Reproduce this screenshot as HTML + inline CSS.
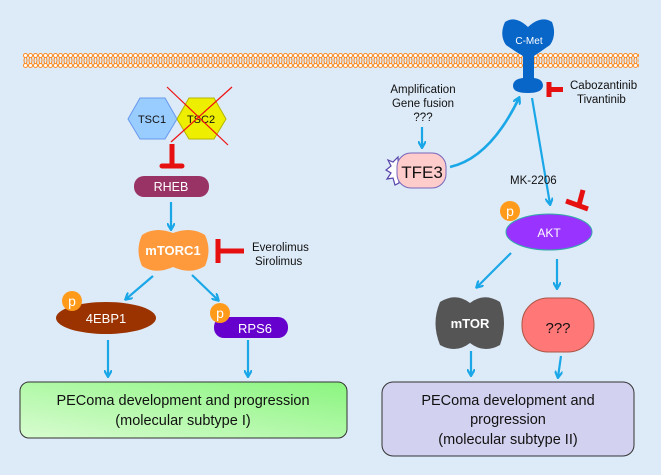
<!DOCTYPE html>
<html><head><meta charset="utf-8"><style>
html,body{margin:0;padding:0;background:#ddeaf7;}
svg{display:block;font-family:"Liberation Sans",sans-serif;}
</style></head><body>
<svg width="661" height="475" viewBox="0 0 661 475" xmlns="http://www.w3.org/2000/svg">
<defs>
<pattern id="mem" x="23" y="53" width="5" height="15" patternUnits="userSpaceOnUse">
<circle cx="2.5" cy="2.5" r="2" fill="#fff" stroke="#ff8a1f" stroke-width="1"/>
<circle cx="2.5" cy="12.5" r="2" fill="#fff" stroke="#ff8a1f" stroke-width="1"/>
<path d="M1.5 4.5 L1 7.5 L1.5 10.5 M3.5 4.5 L4 7.5 L3.5 10.5" stroke="#ff8a1f" stroke-width="1" fill="none"/>
</pattern>
<marker id="ah" markerWidth="8" markerHeight="8" refX="6" refY="4" orient="auto" markerUnits="userSpaceOnUse">
<path d="M0 0 L7 4 L0 8" fill="none" stroke="#1aa7e8" stroke-width="2.2"/>
</marker>
<linearGradient id="g1" x1="0" y1="1" x2="1" y2="0">
<stop offset="0" stop-color="#d8fcd0"/><stop offset="1" stop-color="#8af57f"/>
</linearGradient>
</defs>
<rect width="661" height="475" fill="#ddeaf7"/>
<rect x="23" y="53" width="616" height="15" fill="url(#mem)"/>

<!-- C-Met -->
<path d="M505 22 Q515 15 528 27 Q541 15 552 22 Q557 35 550 45 Q540 52 534 56 L534 78 Q543 79 543 86 Q542 93 528 93 Q513 93 513 86 Q513 79 523 78 L523 56 Q516 52 506 45 Q499 35 505 22 Z" fill="#0866c9"/>
<text x="529" y="44" font-size="10" fill="#fff" text-anchor="middle">C-Met</text>
<path d="M549 82 L549 97 M549 89.5 L563 89.5" stroke="#e61010" stroke-width="5" fill="none"/>
<text x="570" y="89" font-size="11.5" fill="#111">Cabozantinib</text>
<text x="577" y="103" font-size="11.5" fill="#111">Tivantinib</text>

<!-- TSC -->
<polygon points="128,119 140,98 165,98 177,119 165,139 140,139" fill="#99ccff" stroke="#6699ee"/>
<polygon points="177,119 189,98 214,98 226,119 214,139 189,139" fill="#eeee00" stroke="#b5b500"/>
<text x="152" y="123" font-size="11" text-anchor="middle" fill="#111">TSC1</text>
<text x="201" y="123" font-size="11" text-anchor="middle" fill="#111">TSC2</text>
<path d="M167 87 L228 145 M232 87 L171 142" stroke="#ee1111" stroke-width="1.2"/>
<path d="M172 144 L172 164" stroke="#e61010" stroke-width="5"/>
<path d="M162 166 L182 166" stroke="#e61010" stroke-width="5" stroke-linecap="round"/>

<rect x="134" y="176" width="75" height="21" rx="10" fill="#993366"/>
<text x="171" y="191" font-size="12.5" fill="#fff" text-anchor="middle">RHEB</text>
<line x1="171" y1="202" x2="171" y2="229" stroke="#1aa7e8" stroke-width="2.2" marker-end="url(#ah)"/>

<path d="M142 235 Q155 226 173 233 Q191 226 205 235 Q212 250 205 266 Q191 275 173 267 Q155 275 142 266 Q135 250 142 235 Z" fill="#ff9a3c"/>
<text x="173" y="255" font-size="13" font-weight="bold" fill="#fff" text-anchor="middle">mTORC1</text>
<path d="M218 239 L218 263 M218 251 L244 251" stroke="#e61010" stroke-width="5" fill="none"/>
<text x="252" y="251" font-size="11.5" fill="#111">Everolimus</text>
<text x="255" y="265" font-size="11.5" fill="#111">Sirolimus</text>

<line x1="153" y1="276" x2="126" y2="299" stroke="#1aa7e8" stroke-width="2.2" marker-end="url(#ah)"/>
<line x1="192" y1="275" x2="218" y2="300" stroke="#1aa7e8" stroke-width="2.2" marker-end="url(#ah)"/>

<ellipse cx="106" cy="318" rx="50" ry="16" fill="#9a3300"/>
<text x="106" y="323" font-size="13" fill="#fff" text-anchor="middle">4EBP1</text>
<circle cx="72" cy="301" r="10" fill="#ff9a1a"/>
<text x="72" y="306" font-size="14" fill="#fff" text-anchor="middle">p</text>

<rect x="214" y="317" width="74" height="21" rx="10" fill="#6600cc"/>
<text x="255" y="333" font-size="13" fill="#fff" text-anchor="middle">RPS6</text>
<circle cx="220" cy="313" r="10" fill="#ff9a1a"/>
<text x="220" y="318" font-size="14" fill="#fff" text-anchor="middle">p</text>

<line x1="108" y1="340" x2="108" y2="376" stroke="#1aa7e8" stroke-width="2.2" marker-end="url(#ah)"/>
<line x1="248" y1="340" x2="248" y2="376" stroke="#1aa7e8" stroke-width="2.2" marker-end="url(#ah)"/>

<rect x="20" y="382" width="327" height="56" rx="9" fill="url(#g1)" stroke="#333" stroke-width="1"/>
<text x="183" y="405" font-size="14.5" fill="#111" text-anchor="middle">PEComa development and progression</text>
<text x="183" y="425" font-size="14.5" fill="#111" text-anchor="middle">(molecular subtype I)</text>

<!-- right side -->
<text x="423" y="93" font-size="11.5" fill="#111" text-anchor="middle">Amplification</text>
<text x="423" y="107" font-size="11.5" fill="#111" text-anchor="middle">Gene fusion</text>
<text x="423" y="121" font-size="11.5" fill="#111" text-anchor="middle">???</text>
<line x1="422" y1="127" x2="422" y2="147" stroke="#1aa7e8" stroke-width="2.2" marker-end="url(#ah)"/>

<polygon points="398,157 393,162 388,160 391,166 386,170 391,173 387,179 393,178 395,185 399,183" fill="#fff" stroke="#5544aa" stroke-width="1.2"/>
<rect x="397" y="153" width="49" height="35" rx="14" fill="#ffcccc" stroke="#7766bb"/>
<text x="422" y="178" font-size="17" fill="#111" text-anchor="middle">TFE3</text>
<path d="M450 167 Q490 158 519 98" stroke="#1aa7e8" stroke-width="2.6" fill="none" marker-end="url(#ah)"/>
<line x1="532" y1="98" x2="550" y2="204" stroke="#1aa7e8" stroke-width="2.2" marker-end="url(#ah)"/>

<text x="510" y="184" font-size="11.5" fill="#111">MK-2206</text>
<path d="M583 190 L579 205" stroke="#e61010" stroke-width="5"/>
<path d="M566 201 L588 209" stroke="#e61010" stroke-width="5"/>

<ellipse cx="549" cy="232" rx="43" ry="18" fill="#9933ff" stroke="#33aaaa"/>
<text x="549" y="237" font-size="12" fill="#fff" text-anchor="middle">AKT</text>
<circle cx="510" cy="211" r="10" fill="#ff9a1a"/>
<text x="510" y="216" font-size="14" fill="#fff" text-anchor="middle">p</text>

<line x1="511" y1="253" x2="477" y2="287" stroke="#1aa7e8" stroke-width="2.2" marker-end="url(#ah)"/>
<line x1="557" y1="259" x2="557" y2="288" stroke="#1aa7e8" stroke-width="2.2" marker-end="url(#ah)"/>

<path d="M440 302 Q456 292 470 303 Q484 292 500 302 Q508 323 500 345 Q484 354 470 343 Q456 354 440 345 Q431 323 440 302 Z" fill="#555"/>
<text x="470" y="328" font-size="13" font-weight="bold" fill="#fff" text-anchor="middle">mTOR</text>
<rect x="522" y="298" width="72" height="54" rx="26" fill="#ff7777" stroke="#aa5544"/>
<text x="558" y="333" font-size="15" fill="#111" text-anchor="middle">???</text>

<line x1="471" y1="351" x2="471" y2="375" stroke="#1aa7e8" stroke-width="2.2" marker-end="url(#ah)"/>
<line x1="561" y1="356" x2="558" y2="377" stroke="#1aa7e8" stroke-width="2.2" marker-end="url(#ah)"/>

<rect x="382" y="382" width="252" height="74" rx="11" fill="#d2d2f0" stroke="#333" stroke-width="1"/>
<text x="508" y="405" font-size="14.5" fill="#111" text-anchor="middle">PEComa development and</text>
<text x="508" y="424" font-size="14.5" fill="#111" text-anchor="middle">progression</text>
<text x="508" y="444" font-size="14.5" fill="#111" text-anchor="middle">(molecular subtype II)</text>
</svg>
</body></html>
